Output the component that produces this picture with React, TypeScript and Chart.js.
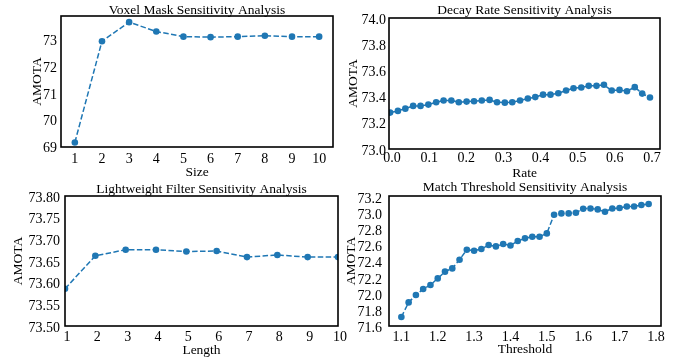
import React, { useEffect, useRef } from "react";
import { Chart, registerables } from "chart.js";

Chart.register(...registerables);

// ---------------- data ----------------
const voxelSizes = [1, 2, 3, 4, 5, 6, 7, 8, 9, 10];
const voxelAmota = [69.15, 72.93, 73.64, 73.29, 73.1, 73.08, 73.1, 73.13, 73.1, 73.1];
const voxelTicksX = [1, 2, 3, 4, 5, 6, 7, 8, 9, 10];
const voxelTicksY = [69, 70, 71, 72, 73];

const decayRates = [
  0, 0.021, 0.041, 0.062, 0.082, 0.103, 0.124, 0.144, 0.165, 0.185, 0.206, 0.226,
  0.247, 0.268, 0.288, 0.309, 0.329, 0.35, 0.371, 0.391, 0.412, 0.432, 0.453, 0.474,
  0.494, 0.515, 0.535, 0.556, 0.576, 0.597, 0.618, 0.638, 0.659, 0.679, 0.7,
];
const decayAmota = [
  73.278, 73.291, 73.308, 73.329, 73.329, 73.339, 73.357, 73.37, 73.37, 73.357, 73.362,
  73.365, 73.37, 73.375, 73.357, 73.354, 73.357, 73.37, 73.385, 73.396, 73.415, 73.415,
  73.426, 73.446, 73.464, 73.469, 73.482, 73.482, 73.49, 73.446, 73.451, 73.441, 73.472,
  73.423, 73.393,
];
const decayTicksX = [0, 0.1, 0.2, 0.3, 0.4, 0.5, 0.6, 0.7];
const decayTicksY = [73.0, 73.2, 73.4, 73.6, 73.8, 74.0];

const filterLengths = [1, 2, 3, 4, 5, 6, 7, 8, 9, 10];
const filterAmota = [73.586, 73.662, 73.676, 73.676, 73.672, 73.673, 73.659, 73.664, 73.659, 73.659];
const filterTicksX = [1, 2, 3, 4, 5, 6, 7, 8, 9, 10];
const filterTicksY = [73.5, 73.55, 73.6, 73.65, 73.7, 73.75, 73.8];

const matchThresholds = [
  1.1, 1.12, 1.14, 1.16, 1.18, 1.2, 1.22, 1.24, 1.26, 1.28, 1.3, 1.32, 1.34, 1.36, 1.38,
  1.4, 1.42, 1.44, 1.46, 1.48, 1.5, 1.52, 1.54, 1.56, 1.58, 1.6, 1.62, 1.64, 1.66, 1.68,
  1.7, 1.72, 1.74, 1.76, 1.78,
];
const matchAmota = [
  71.712, 71.894, 71.986, 72.061, 72.111, 72.193, 72.277, 72.318, 72.426, 72.551, 72.538,
  72.559, 72.609, 72.592, 72.622, 72.604, 72.659, 72.692, 72.713, 72.713, 72.754, 72.987,
  73.003, 73.003, 73.012, 73.062, 73.065, 73.053, 73.024, 73.065, 73.07, 73.09, 73.09,
  73.108, 73.12,
];
const matchTicksX = [1.1, 1.2, 1.3, 1.4, 1.5, 1.6, 1.7, 1.8];
const matchTicksY = [71.6, 71.8, 72.0, 72.2, 72.4, 72.6, 72.8, 73.0, 73.2];

// ---------------- styling / layout ----------------
const W = 678;
const H = 358;
const FONT = '"Liberation Serif", "Times New Roman", serif';
const BLUE = "#1f77b4";

type Panel = {
  title: string;
  xLabel: string;
  xs: number[];
  ys: number[];
  xTicks: number[];
  yTicks: number[];
  xDec: number;
  yDec: number;
  xMin: number;
  xMax: number;
  yMin: number;
  yMax: number;
  box: { L: number; T: number; R: number; B: number };
  titleY: number;
  yAxisW: number;
  xAxisH: number;
  xPad: number;
  yPad: number;
  xShift: number;
};

const panels: Panel[] = [
  {
    title: "Voxel Mask Sensitivity Analysis",
    xLabel: "Size",
    xs: voxelSizes,
    ys: voxelAmota,
    xTicks: voxelTicksX,
    yTicks: voxelTicksY,
    xDec: 0,
    yDec: 0,
    xMin: 0.49,
    xMax: 10.51,
    yMin: 68.98,
    yMax: 73.87,
    box: { L: 61, T: 16, R: 333, B: 147 },
    titleY: 10,
    yAxisW: 30.25,
    xAxisH: 32.45,
    xPad: 4,
    yPad: 4,
    xShift: 0,
  },
  {
    title: "Decay Rate Sensitivity Analysis",
    xLabel: "Rate",
    xs: decayRates,
    ys: decayAmota,
    xTicks: decayTicksX,
    yTicks: decayTicksY,
    xDec: 1,
    yDec: 1,
    xMin: -0.003,
    xMax: 0.727,
    yMin: 73.0,
    yMax: 74.0,
    box: { L: 389, T: 18, R: 660, B: 149 },
    titleY: 10,
    yAxisW: 42.75,
    xAxisH: 31.05,
    xPad: 1,
    yPad: 3,
    xShift: 2,
  },
  {
    title: "Lightweight Filter Sensitivity Analysis",
    xLabel: "Length",
    xs: filterLengths,
    ys: filterAmota,
    xTicks: filterTicksX,
    yTicks: filterTicksY,
    xDec: 0,
    yDec: 2,
    xMin: 1,
    xMax: 10,
    yMin: 73.5,
    yMax: 73.8,
    box: { L: 65, T: 196, R: 338, B: 326 },
    titleY: 189,
    yAxisW: 53.45,
    xAxisH: 31.45,
    xPad: 3,
    yPad: 5,
    xShift: 2,
  },
  {
    title: "Match Threshold Sensitivity Analysis",
    xLabel: "Threshold",
    xs: matchThresholds,
    ys: matchAmota,
    xTicks: matchTicksX,
    yTicks: matchTicksY,
    xDec: 1,
    yDec: 1,
    xMin: 1.066,
    xMax: 1.814,
    yMin: 71.6,
    yMax: 73.22,
    box: { L: 389, T: 196, R: 661, B: 326 },
    titleY: 187,
    yAxisW: 44.45,
    xAxisH: 30.45,
    xPad: 3,
    yPad: 7,
    xShift: 0,
  },
];

const boxPlugin = {
  id: "panelBox",
  afterDatasetsDraw(chart: any) {
    const { ctx, chartArea: a } = chart;
    ctx.save();
    ctx.strokeStyle = "#000";
    ctx.lineWidth = 1.6;
    ctx.strokeRect(a.left, a.top, a.right - a.left, a.bottom - a.top);
    ctx.restore();
  },
};

const titlePlugin = {
  id: "panelTitle",
  afterDraw(chart: any, _args: any, opts: any) {
    const { ctx, chartArea: a } = chart;
    ctx.save();
    ctx.fillStyle = "#000";
    ctx.font = `13.5px ${FONT}`;
    ctx.textAlign = "center";
    ctx.textBaseline = "middle";
    ctx.fillText(opts.text, (a.left + a.right) / 2, opts.y);
    ctx.restore();
  },
};

function PanelChart({ p }: { p: Panel }) {
  const ref = useRef<HTMLCanvasElement | null>(null);
  useEffect(() => {
    if (!ref.current) return;
    const { L, T, R, B } = p.box;
    const padLeft = L - p.yAxisW;
    const padBottom = Math.max(0, H - B - p.xAxisH);
    const chart = new Chart(ref.current, {
      type: "line",
      data: {
        datasets: [
          {
            data: p.xs.map((x, i) => ({ x, y: p.ys[i] })),
            borderColor: BLUE,
            backgroundColor: BLUE,
            borderWidth: 1.5,
            borderDash: [5.5, 2.4],
            pointRadius: 3.3,
            pointBackgroundColor: BLUE,
            pointBorderWidth: 0,
            tension: 0,
            fill: false,
          },
        ],
      },
      options: {
        responsive: false,
        animation: false,
        events: [],
        layout: { padding: { left: padLeft, top: T, right: W - R, bottom: padBottom } },
        plugins: {
          legend: { display: false },
          tooltip: { enabled: false },
          panelTitle: { text: p.title, y: p.titleY },
        } as any,
        scales: {
          x: {
            type: "linear",
            min: p.xMin,
            max: p.xMax,
            grid: { display: false, drawTicks: false },
            border: { display: false },
            afterBuildTicks: (s: any) => {
              s.ticks = p.xTicks.map((v) => ({ value: v }));
            },
            afterFit: (s: any) => {
              s.height = p.xAxisH;
              s.paddingLeft = 0;
              s.paddingRight = 0;
            },
            ticks: {
              autoSkip: false,
              maxRotation: 0,
              minRotation: 0,
              padding: p.xPad,
              labelOffset: p.xShift,
              color: "#000",
              font: { family: FONT, size: 14 },
              callback: (v: any) => Number(v).toFixed(p.xDec),
            },
            title: {
              display: true,
              text: p.xLabel,
              color: "#000",
              font: { family: FONT, size: 13.5, lineHeight: 1 },
              padding: 0,
            },
          },
          y: {
            type: "linear",
            min: p.yMin,
            max: p.yMax,
            grid: { display: false, drawTicks: false },
            border: { display: false },
            afterBuildTicks: (s: any) => {
              s.ticks = p.yTicks.map((v) => ({ value: v }));
            },
            afterFit: (s: any) => {
              s.width = p.yAxisW;
              s.paddingTop = 0;
              s.paddingBottom = 0;
            },
            ticks: {
              autoSkip: false,
              padding: p.yPad,
              labelOffset: 2,
              color: "#000",
              font: { family: FONT, size: 14 },
              callback: (v: any) => Number(v).toFixed(p.yDec),
            },
            title: {
              display: true,
              text: "AMOTA",
              color: "#000",
              font: { family: FONT, size: 13.5, lineHeight: 1 },
              padding: 0,
            },
          },
        },
      } as any,
      plugins: [boxPlugin, titlePlugin],
    });
    return () => chart.destroy();
  }, [p]);
  return (
    <canvas
      ref={ref}
      width={W}
      height={H}
      style={{ position: "absolute", left: 0, top: 0, width: W, height: H, display: "block" }}
    />
  );
}

export default function App() {
  return (
    <div
      style={{
        position: "absolute",
        left: 0,
        top: 0,
        width: W,
        height: H,
        background: "#fff",
        overflow: "hidden",
      }}
    >
      {panels.map((p, i) => (
        <PanelChart key={i} p={p} />
      ))}
    </div>
  );
}
